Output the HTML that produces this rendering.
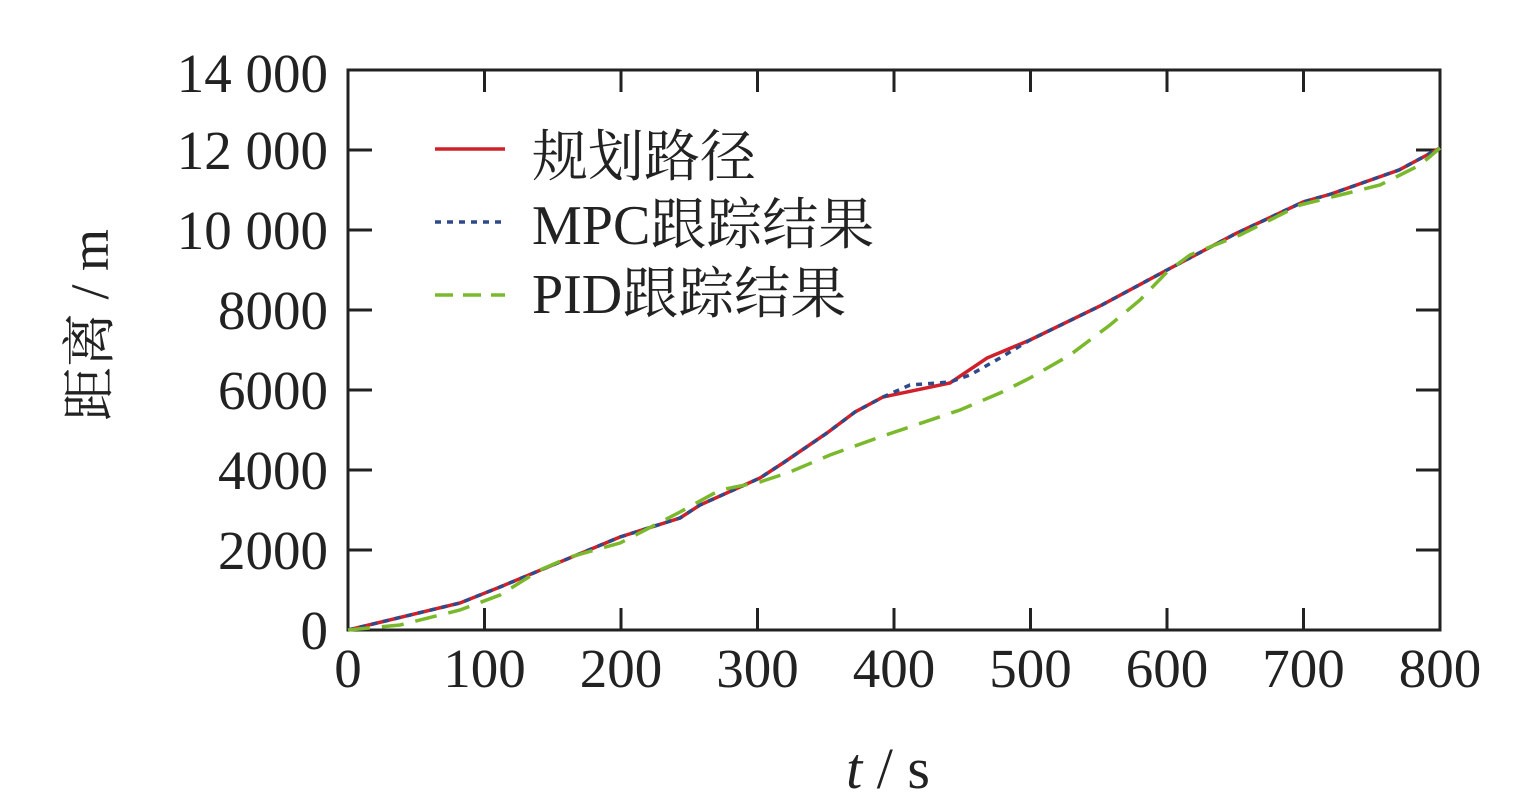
<!DOCTYPE html>
<html><head><meta charset="utf-8"><style>body{margin:0;background:#fff}</style></head><body>
<svg width="1538" height="802" xmlns="http://www.w3.org/2000/svg" font-family="Liberation Serif, Noto Serif CJK SC, serif">
<rect width="1538" height="802" fill="#fff"/>
<g stroke="#222" stroke-width="3" fill="none">
<rect x="348" y="70" width="1092" height="560"/>
<path d="M484.5,630v-22M621,630v-22M757.5,630v-22M894,630v-22M1030.5,630v-22M1167,630v-22M1303.5,630v-22
M484.5,70v22M621,70v22M757.5,70v22M894,70v22M1030.5,70v22M1167,70v22M1303.5,70v22
M348,550h24M348,470h24M348,390h24M348,310h24M348,230h24M348,150h24
M1440,550h-24M1440,470h-24M1440,390h-24M1440,310h-24M1440,230h-24M1440,150h-24"/>
</g>
<g font-size="55" fill="#222" text-anchor="end">
<text x="328" y="649">0</text><text x="328" y="569">2000</text><text x="328" y="489">4000</text>
<text x="328" y="409">6000</text><text x="328" y="329">8000</text><text x="328" y="249">10 000</text>
<text x="328" y="169">12 000</text><text x="328" y="92">14 000</text>
</g>
<g font-size="55" fill="#222" text-anchor="middle">
<text x="348" y="687">0</text><text x="484.5" y="687">100</text><text x="621" y="687">200</text>
<text x="757.5" y="687">300</text><text x="894" y="687">400</text><text x="1030.5" y="687">500</text>
<text x="1167" y="687">600</text><text x="1303.5" y="687">700</text><text x="1440" y="687">800</text>
<text x="888" y="788" font-size="58"><tspan font-style="italic">t</tspan> / s</text>
</g>
<text transform="translate(108,325) rotate(-90)" font-size="54" fill="#222" text-anchor="middle">距离 / m</text>
<g fill="none" stroke-width="3.5">
<polyline stroke="#d0202a" points="348,630 460,603 500,587 620,537 680,518 700,505 760,478 783,463 827,433 855,412 883,397 950,383 987,358 1030,340 1100,306 1167,270 1235,234 1303,202 1331,194 1399,170 1440,148"/>
<polyline stroke="#2e4a8a" stroke-dasharray="6,6" points="348,630 460,603 500,587 620,537 680,518 700,505 760,478 783,463 827,433 855,412 883,397 910,385 950,382 970,375 1000,358 1030,340 1100,306 1167,270 1235,234 1303,202 1331,194 1399,170 1440,148"/>
<polyline stroke="#7ab92c" stroke-dasharray="22,12" points="348,630 400,625 460,610 500,595 540,570 570,557 620,543 680,512 720,490 760,482 790,472 830,455 880,437 960,410 1000,393 1030,378 1070,355 1110,325 1140,300 1167,272 1190,255 1240,235 1270,220 1300,205 1340,195 1380,185 1420,165 1440,148"/>
<line x1="435" y1="149" x2="505" y2="149" stroke="#d0202a"/>
<line x1="435" y1="222" x2="505" y2="222" stroke="#2e4a8a" stroke-dasharray="6,6"/>
<line x1="435" y1="295" x2="505" y2="295" stroke="#7ab92c" stroke-dasharray="18,10"/>
</g>
<g font-size="56" fill="#222">
<text x="532" y="176">规划路径</text>
<text x="532" y="244">MPC跟踪结果</text>
<text x="532" y="313">PID跟踪结果</text>
</g>
</svg>
</body></html>
